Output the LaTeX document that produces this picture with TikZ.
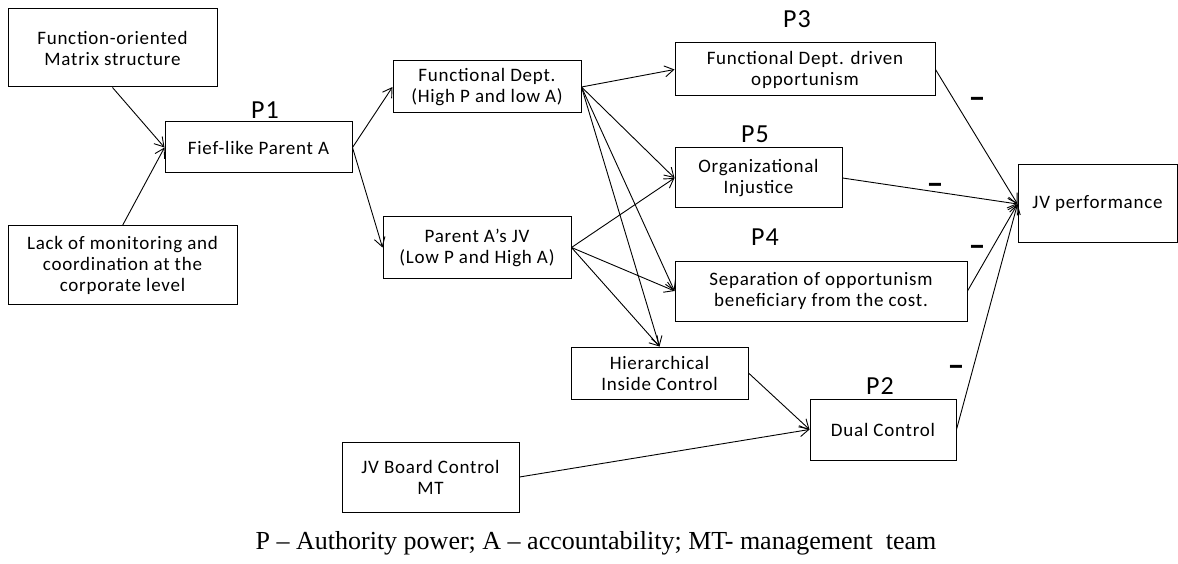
\documentclass[tikz,border=0pt]{standalone}
\usepackage{fontspec}
\setmainfont{Carlito}[LetterSpace=4]
\newfontfamily\notefont{Liberation Serif}
\usetikzlibrary{arrows.meta, positioning}

\begin{document}
\begin{tikzpicture}[x=1pt,y=-1pt,
    font=\fontsize{19}{21}\selectfont,
    block/.style={draw, line width=1pt, align=center, inner sep=0pt},
    link/.style={-{Straight Barb[length=9pt,width=11pt]}, line width=0.9pt},
    plabel/.style={font=\fontsize{26}{26}\selectfont},
    minus/.style={font=\fontsize{34}{34}\selectfont\bfseries, yshift=-6pt}
]
\useasboundingbox (0,0) rectangle (1178,564);

% causes
\node[block, minimum width=209pt, minimum height=78pt] (matrixs) at (112.5,48) {Function-oriented\\Matrix structure};
\node[block, minimum width=187pt, minimum height=51pt] (fief) at (258.5,147.5) {Fief-like Parent A};
\node[block, minimum width=229pt, minimum height=78pt] (lack) at (122.5,265) {Lack of monitoring and\\coordination at the\\corporate level};

% parents
\node[block, minimum width=188pt, minimum height=52pt] (funcdept) at (487,87) {Functional Dept.\\(High P and low A)};
\node[block, minimum width=188pt, minimum height=61pt] (parentjv) at (477,247.5) {Parent A’s JV\\(Low P and High A)};

% mechanisms
\node[block, minimum width=260pt, minimum height=53pt] (opport) at (805,69.5) {Functional Dept. driven\\opportunism};
\node[block, minimum width=167pt, minimum height=60pt] (injust) at (758.5,178) {Organizational\\Injustice};
\node[block, minimum width=292pt, minimum height=60pt] (separ) at (821,291) {Separation of opportunism\\beneficiary from the cost.};
\node[block, minimum width=177pt, minimum height=52pt] (hier) at (659.5,373) {Hierarchical\\Inside Control};
\node[block, minimum width=146pt, minimum height=61pt] (dual) at (883,429.5) {Dual Control};
\node[block, minimum width=177pt, minimum height=70pt] (board) at (430.5,477) {JV Board Control\\MT};
\node[block, minimum width=159pt, minimum height=78pt] (jvperf) at (1097.5,204) {JV performance};

% propositions
\node[plabel] (p1) at (265,110) {P1};
\node[plabel] (p3) at (797,19) {P3};
\node[plabel] (p5) at (755,134) {P5};
\node[plabel] (p4) at (765,237) {P4};
\node[plabel] (p2) at (880,386) {P2};

\node[minus] (m3) at (977,97) {–};
\node[minus] (m5) at (935,183) {–};
\node[minus] (m4) at (977,245) {–};
\node[minus] (m2) at (956,365) {–};

\draw[link] (matrixs.south) -- (fief.west);
\draw[link] (lack.north) -- (fief.west);
\draw[link] (fief.east) -- (funcdept.west);
\draw[link] (fief.east) -- (parentjv.west);

\draw[link] (funcdept.east) -- (opport.west);
\draw[link] (funcdept.east) -- (injust.west);
\draw[link] (funcdept.east) -- (separ.west);
\draw[link] (funcdept.east) -- (hier.north);
\draw[link] (parentjv.east) -- (injust.west);
\draw[link] (parentjv.east) -- (separ.west);
\draw[link] (parentjv.east) -- (hier.north);

\draw[link] (hier.east) -- (dual.west);
\draw[link] (board.east) -- (dual.west);

\draw[link] (opport.east) -- (jvperf.west);
\draw[link] (injust.east) -- (jvperf.west);
\draw[link] (separ.east) -- (jvperf.west);
\draw[link] (dual.east) -- (jvperf.west);

\node[font=\notefont\fontsize{26}{26}\selectfont] (note) at (596,543) {P – Authority power; A – accountability; MT- management\ \ team};

\end{tikzpicture}
\end{document}
